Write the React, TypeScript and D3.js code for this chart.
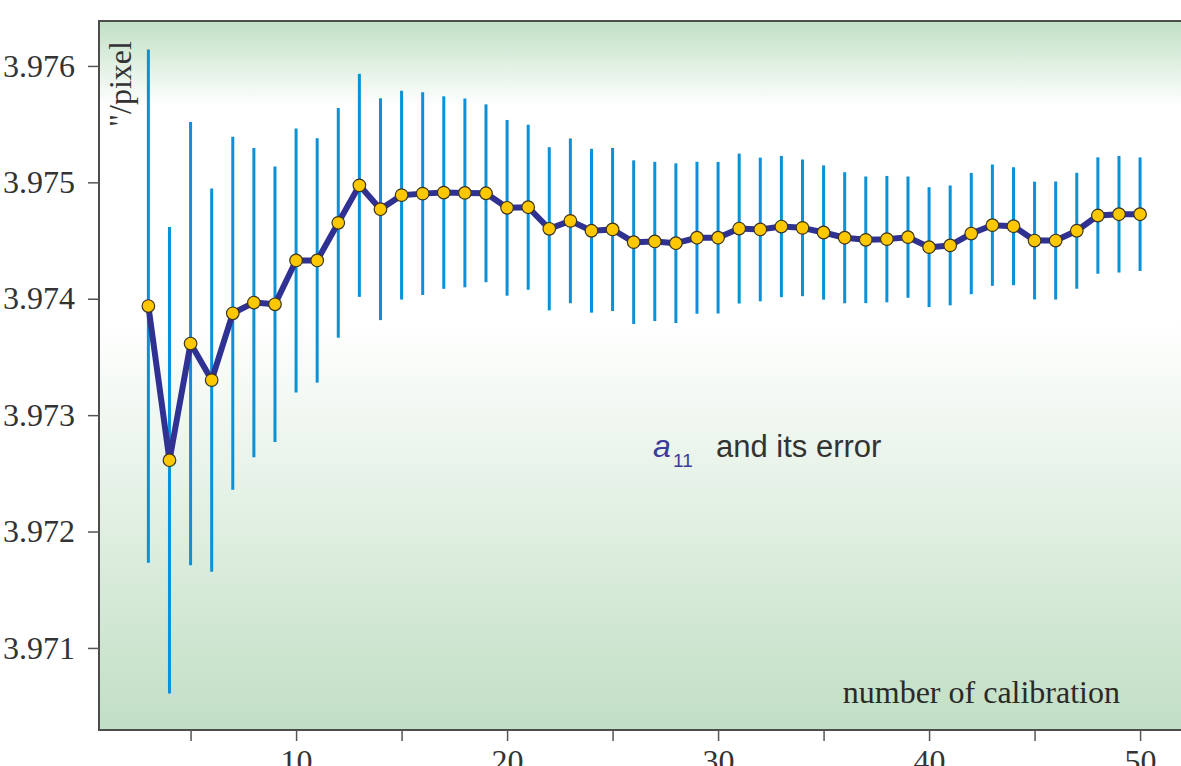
import React, { useEffect, useRef } from 'react';
import * as d3 from 'd3';

// number of calibration (x) and the a11 estimate with its error
const calibration = [3, 4, 5, 6, 7, 8, 9, 10, 11, 12, 13, 14, 15, 16, 17, 18, 19, 20, 21, 22, 23, 24, 25, 26,
  27, 28, 29, 30, 31, 32, 33, 34, 35, 36, 37, 38, 39, 40, 41, 42, 43, 44, 45, 46, 47, 48, 49, 50];

const a11 = [3.973937, 3.972613, 3.973615, 3.973301, 3.973875, 3.973967, 3.973952, 3.974329, 3.974329,
  3.974652, 3.974974, 3.974769, 3.97489, 3.974903, 3.974912, 3.974909, 3.974906, 3.974781, 3.974786,
  3.974601, 3.974669, 3.974584, 3.974595, 3.974486, 3.974492, 3.974477, 3.974524, 3.974524, 3.974603,
  3.974595, 3.97462, 3.974609, 3.974569, 3.974524, 3.974506, 3.974512, 3.974529, 3.974443, 3.974458,
  3.97456, 3.974632, 3.974623, 3.9745, 3.9745, 3.974584, 3.974715, 3.974726, 3.974726];

const a11Error = [0.002205, 0.002004, 0.001904, 0.001647, 0.001517, 0.001328, 0.001183, 0.001134, 0.00105,
  0.000987, 0.000958, 0.000953, 0.000897, 0.000871, 0.000827, 0.000811, 0.000764, 0.000755, 0.000709,
  0.000701, 0.000708, 0.000704, 0.000701, 0.000703, 0.000684, 0.000686, 0.000653, 0.000651, 0.000644,
  0.000617, 0.000607, 0.000587, 0.000577, 0.000563, 0.000544, 0.000543, 0.000521, 0.000515, 0.000515,
  0.000521, 0.000521, 0.000507, 0.000506, 0.000507, 0.000498, 0.0005, 0.000501, 0.000488];

const xTicks = [5, 10, 15, 20, 25, 30, 35, 40, 45, 50];
const xTickLabels = [10, 20, 30, 40, 50];
const yTicks = [3.971, 3.972, 3.973, 3.974, 3.975, 3.976];

const W = 1181;
const H = 766;

export default function App() {
  const ref = useRef<SVGSVGElement>(null);

  useEffect(() => {
    const svg = d3.select(ref.current);
    svg.selectAll('*').remove();

    const left = 99, top = 21, right = 1200, bottom = 730;

    const x = d3.scaleLinear().domain([0.66, 52.84]).range([left, right]);
    const y = d3.scaleLinear().domain([3.970295, 3.976386]).range([bottom, top]);

    const data = calibration.map((c, i) => ({ c, v: a11[i], e: a11Error[i] }));

    // background gradient
    const grad = svg.append('defs').append('linearGradient')
      .attr('id', 'bg').attr('x1', 0).attr('y1', 0).attr('x2', 0).attr('y2', 1);
    grad.append('stop').attr('offset', '0%').attr('stop-color', '#c1e0c4');
    grad.append('stop').attr('offset', '12%').attr('stop-color', '#ffffff');
    grad.append('stop').attr('offset', '42%').attr('stop-color', '#ffffff');
    grad.append('stop').attr('offset', '100%').attr('stop-color', '#c1dfc4');

    svg.append('rect')
      .attr('x', left).attr('y', top)
      .attr('width', right - left).attr('height', bottom - top)
      .attr('fill', 'url(#bg)')
      .attr('stroke', '#4d4d4d')
      .attr('stroke-width', 2);

    // axes
    const xAxis = svg.append('g')
      .attr('transform', `translate(0,${bottom})`)
      .call(d3.axisBottom(x).tickValues(xTicks).tickSize(11).tickPadding(8)
        .tickFormat((d: any) => (xTickLabels.includes(d) ? String(d) : '')));
    const yAxis = svg.append('g')
      .attr('transform', `translate(${left},0)`)
      .call(d3.axisLeft(y).tickValues(yTicks).tickSize(11).tickPadding(13)
        .tickFormat(d3.format('.3f') as any));

    [xAxis, yAxis].forEach(g => {
      g.select('.domain').remove();
      g.selectAll('line').attr('stroke', '#555').attr('stroke-width', 1.5);
      g.selectAll('text')
        .attr('fill', '#333')
        .style('font-family', '"Liberation Serif", "Times New Roman", serif')
        .style('font-size', '32px');
    });

    // error bars
    svg.append('g').selectAll('line')
      .data(data).enter().append('line')
      .attr('x1', d => x(d.c)).attr('x2', d => x(d.c))
      .attr('y1', d => y(d.v + d.e)).attr('y2', d => y(d.v - d.e))
      .attr('stroke', '#0a91d8')
      .attr('stroke-width', 3);

    // line
    const line = d3.line<{ c: number; v: number }>().x(d => x(d.c)).y(d => y(d.v));
    svg.append('path')
      .datum(data)
      .attr('d', line)
      .attr('fill', 'none')
      .attr('stroke', '#2f3193')
      .attr('stroke-width', 6)
      .attr('stroke-linejoin', 'round');

    // markers
    svg.append('g').selectAll('circle')
      .data(data).enter().append('circle')
      .attr('cx', d => x(d.c)).attr('cy', d => y(d.v))
      .attr('r', 6.3)
      .attr('fill', '#fdc800')
      .attr('stroke', '#3a3520')
      .attr('stroke-width', 1.2);

    // y label
    svg.append('text')
      .attr('transform', 'translate(131,127) rotate(-90)')
      .attr('fill', '#333')
      .style('font-family', '"Liberation Serif", "Times New Roman", serif')
      .style('font-size', '32px')
      .text('"/pixel');

    // x label
    svg.append('text')
      .attr('x', 1120).attr('y', 703)
      .attr('text-anchor', 'end')
      .attr('fill', '#2a2a2a')
      .style('font-family', '"Liberation Serif", "Times New Roman", serif')
      .style('font-size', '32px')
      .text('number of calibration');

    // annotation
    const sans = '"Liberation Sans", Arial, sans-serif';
    svg.append('text')
      .attr('x', 653).attr('y', 457)
      .attr('fill', '#3b3b9b')
      .style('font-family', sans).style('font-size', '32px').style('font-style', 'italic')
      .text('a');
    svg.append('text')
      .attr('x', 673).attr('y', 467)
      .attr('fill', '#3b3b9b')
      .style('font-family', sans).style('font-size', '19px')
      .text('11');
    svg.append('text')
      .attr('x', 716).attr('y', 457)
      .attr('fill', '#333')
      .style('font-family', sans).style('font-size', '31px')
      .text('and its error');
  }, []);

  return (
    <svg ref={ref} width={W} height={H}
      style={{ position: 'absolute', left: 0, top: 0, background: '#fff' }} />
  );
}
